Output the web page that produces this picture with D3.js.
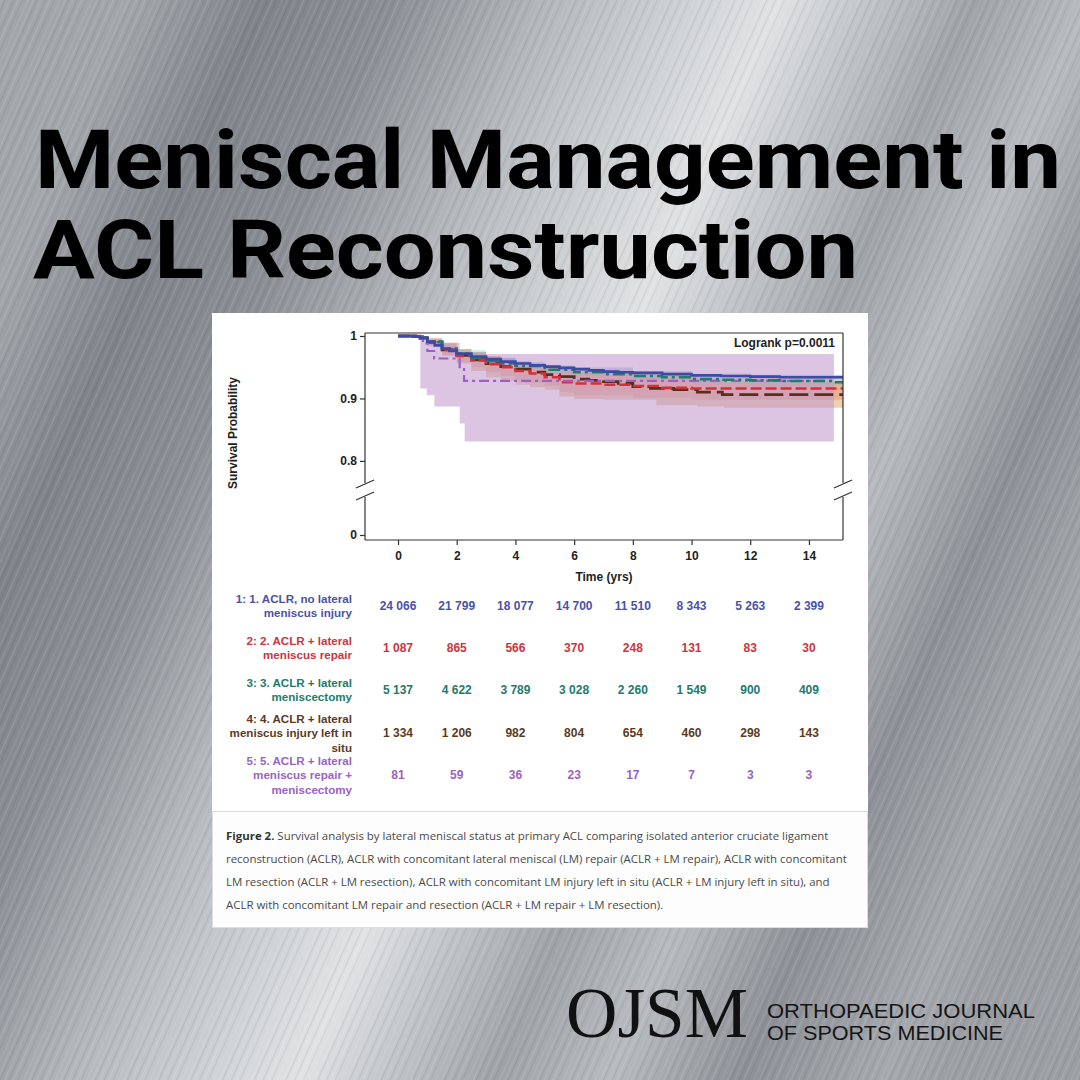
<!DOCTYPE html>
<html><head><meta charset="utf-8">
<script src="https://cdn.jsdelivr.net/npm/d3@7/dist/d3.min.js"></script>
<style>html,body{margin:0;padding:0;background:#9a9ea3;} svg{display:block}</style>
</head><body><svg id="c" width="1080" height="1080"></svg>
<script>
// ---------- data ----------
const titleLines = ["Meniscal Management in", "ACL Reconstruction"];
const xTicks = [0, 2, 4, 6, 8, 10, 12, 14];
const yTicks = [0, 0.8, 0.9, 1];
const yTickLabels = ["0", "0.8", "0.9", "1"];
const logrankText = "Logrank p=0.0011";
const xTitle = "Time (yrs)";
const yTitle = "Survival Probability";

const groupLabels = [
  ["1: 1. ACLR, no lateral", "meniscus injury"],
  ["2: 2. ACLR + lateral", "meniscus repair"],
  ["3: 3. ACLR + lateral", "meniscectomy"],
  ["4: 4. ACLR + lateral", "meniscus injury left in", "situ"],
  ["5: 5. ACLR + lateral", "meniscus repair +", "meniscectomy"]
];
const groupColors = ["#3d4aa6", "#d42f3a", "#1f7c6e", "#55301a", "#9b5fc6"];
const textColors  = ["#4a52a8", "#cc3440", "#237a6a", "#5c3a1e", "#9a62c4"];

const atRisk1 = [24066, 21799, 18077, 14700, 11510, 8343, 5263, 2399];
const atRisk2 = [1087, 865, 566, 370, 248, 131, 83, 30];
const atRisk3 = [5137, 4622, 3789, 3028, 2260, 1549, 900, 409];
const atRisk4 = [1334, 1206, 982, 804, 654, 460, 298, 143];
const atRisk5 = [81, 59, 36, 23, 17, 7, 3, 3];

// Kaplan-Meier estimates [time, survival]
const surv1 = [[0,1],[0.5,0.999],[0.75,0.997],[1,0.991],[1.25,0.985],[1.5,0.98],[1.75,0.976],[2,0.972],[2.5,0.967],[3,0.963],[3.5,0.959],[4,0.956],[4.5,0.953],[5,0.951],[5.5,0.949],[6,0.947],[6.5,0.945],[7,0.943],[7.5,0.942],[8,0.941],[9,0.939],[10,0.937],[11,0.936],[12,0.935],[13,0.934],[14,0.934],[15.2,0.934]];
const surv2 = [[0,1],[0.75,0.996],[1,0.99],[1.5,0.978],[2,0.968],[2.5,0.961],[3,0.955],[3.5,0.95],[4,0.944],[4.5,0.94],[5,0.934],[5.5,0.926],[6,0.924],[7,0.922],[8,0.92],[9,0.917],[10,0.916],[15.2,0.915]];
const surv3 = [[0,1],[0.75,0.997],[1,0.991],[1.5,0.98],[2,0.972],[2.5,0.965],[3,0.96],[3.5,0.956],[4,0.952],[5,0.946],[6,0.942],[7,0.939],[8,0.936],[9,0.934],[10,0.931],[11,0.93],[12,0.929],[13,0.928],[14.8,0.926],[15.2,0.926]];
const surv4 = [[0,1],[0.75,0.997],[1,0.99],[1.5,0.978],[2,0.969],[2.5,0.962],[3,0.956],[3.5,0.951],[4,0.947],[4.5,0.942],[5,0.938],[5.5,0.935],[6,0.931],[6.5,0.929],[7,0.927],[7.5,0.924],[8,0.919],[8.6,0.916],[9.4,0.914],[10.2,0.91],[11.05,0.906],[15.2,0.906]];
const surv5 = [[0,1],[0.85,0.988],[1.0,0.976],[1.23,0.964],[2.1,0.95],[2.25,0.928],[14.9,0.928]];

// 95% confidence bands [time, lower, upper]
const ci1 = [[0,1,1],[0.75,0.996,0.998],[1,0.989,0.993],[1.5,0.978,0.982],[2,0.97,0.974],[3,0.961,0.965],[4,0.954,0.958],[5,0.948,0.953],[6,0.944,0.95],[8,0.938,0.944],[10,0.934,0.94],[12,0.932,0.938],[15.2,0.931,0.937]];
const ci2 = [[0,1,1],[0.5,0.997,1],[1,0.985,0.997],[1.5,0.97,0.989],[2,0.958,0.979],[2.5,0.95,0.974],[3,0.942,0.968],[3.5,0.936,0.964],[4,0.93,0.959],[4.5,0.925,0.955],[5,0.92,0.949],[5.5,0.91,0.943],[6,0.905,0.941],[8,0.901,0.938],[10,0.898,0.934],[15.2,0.896,0.932]];
const ci3 = [[0,1,1],[0.75,0.995,0.999],[1,0.988,0.994],[1.5,0.976,0.984],[2,0.967,0.977],[3,0.955,0.965],[4,0.946,0.958],[5,0.94,0.952],[6,0.936,0.948],[8,0.929,0.943],[10,0.924,0.938],[12,0.921,0.937],[15.2,0.917,0.935]];
const ci4 = [[0,1,1],[0.5,0.997,1],[1,0.984,0.996],[1.5,0.968,0.988],[2,0.956,0.979],[2.5,0.944,0.974],[3,0.934,0.968],[3.5,0.928,0.964],[4,0.922,0.96],[4.5,0.918,0.956],[5,0.914,0.953],[5.5,0.903,0.95],[6,0.899,0.947],[7,0.898,0.944],[8.8,0.889,0.937],[10.2,0.887,0.931],[11.1,0.885,0.926],[15.2,0.885,0.926]];
const ci5 = [[0,1,1],[0.76,0.916,1.0],[0.98,0.905,0.989],[1.24,0.887,0.989],[2.1,0.86,0.971],[2.27,0.831,0.971],[14.85,0.831,0.971]];

const captionLines = [
  ["Figure 2.", " Survival analysis by lateral meniscal status at primary ACL comparing isolated anterior cruciate ligament"],
  ["", "reconstruction (ACLR), ACLR with concomitant lateral meniscal (LM) repair (ACLR + LM repair), ACLR with concomitant"],
  ["", "LM resection (ACLR + LM resection), ACLR with concomitant LM injury left in situ (ACLR + LM injury left in situ), and"],
  ["", "ACLR with concomitant LM repair and resection (ACLR + LM repair + LM resection)."]
];
const logoMark = "OJSM";
const logoLines = ["ORTHOPAEDIC JOURNAL", "OF SPORTS MEDICINE"];

const bgStops = [[0,"#a2a6ab"],[0.1,"#7f838a"],[0.2,"#8b8f95"],[0.32,"#b3b6bb"],[0.42,"#cdd0d3"],[0.5,"#e0e2e4"],[0.56,"#c4c7cb"],[0.65,"#9fa3a8"],[0.74,"#b7babe"],[0.84,"#8d9197"],[0.95,"#a5a8ad"],[1,"#9b9fa4"]];

// ---------- drawing ----------
const svg = d3.select("#c");
const W = 1080, H = 1080;
const defs = svg.append("defs");
const grad = defs.append("linearGradient").attr("id","metal")
  .attr("gradientUnits","userSpaceOnUse").attr("x1",0).attr("y1",300).attr("x2",1080).attr("y2",780);
bgStops.forEach(([o,c]) => grad.append("stop").attr("offset",o).attr("stop-color",c));
svg.append("rect").attr("width",W).attr("height",H).attr("fill","url(#metal)");

const pat = defs.append("pattern").attr("id","brush").attr("patternUnits","userSpaceOnUse")
  .attr("width",29).attr("height",60).attr("patternTransform","rotate(24)");
[[1,0.11,"#fff"],[4,0.08,"#000"],[8,0.10,"#fff"],[12,0.07,"#000"],[16,0.14,"#fff"],[20,0.06,"#000"],[25,0.09,"#fff"]]
  .forEach(([px,o,c]) => pat.append("rect").attr("x",px).attr("y",0).attr("width",1.2).attr("height",60).attr("fill",c).attr("opacity",o));
svg.append("rect").attr("width",W).attr("height",H).attr("fill","url(#brush)");

// title
titleLines.forEach((t,i) => {
  svg.append("text").attr("x", i ? 33 : 35).attr("y", i ? 278 : 188)
    .attr("font-family","Roboto, 'Open Sans', sans-serif").attr("font-weight",700)
    .attr("font-size",81).attr("fill","#000")
    .attr("textLength", i ? 825 : 1026).attr("lengthAdjust","spacingAndGlyphs")
    .text(t);
});

// panel
svg.append("rect").attr("x",212).attr("y",313).attr("width",656).attr("height",615).attr("fill","#ffffff");
svg.append("rect").attr("x",212.5).attr("y",811.5).attr("width",655).attr("height",116)
  .attr("fill","#fdfdfd").attr("stroke","#dddddd");

// scales
const plotL = 365, plotR = 843, plotT = 333, plotB = 540;
const x = d3.scaleLinear().domain([-1.125, 15.16]).range([plotL, plotR]);
const y = d3.scaleLinear().domain([0, 0.755, 1]).range([535, 489, 336]);

defs.append("clipPath").attr("id","plotclip").append("rect")
  .attr("x",plotL).attr("y",plotT).attr("width",plotR-plotL).attr("height",plotB-plotT);
const plot = svg.append("g").attr("clip-path","url(#plotclip)");

const area = d3.area().curve(d3.curveStepAfter).x(d=>x(d[0])).y0(d=>y(d[1])).y1(d=>y(d[2]));
const bands = [
  {d:ci4, fill:"#d68a3c", op:0.42},
  {d:ci2, fill:"#e0604c", op:0.25},
  {d:ci3, fill:"#7cc4b4", op:0.35},
  {d:ci1, fill:"#8c98d8", op:0.35},
  {d:ci5, fill:"#bf95cc", op:0.55}
];
bands.forEach(b => plot.append("path").attr("d",area(b.d)).attr("fill",b.fill).attr("fill-opacity",b.op));

const line = d3.line().curve(d3.curveStepAfter).x(d=>x(d[0])).y(d=>y(d[1]));
const curves = [
  {d:surv4, c:groupColors[3], w:2.8, dash:"19,6"},
  {d:surv2, c:groupColors[1], w:2.6, dash:"11,4"},
  {d:surv5, c:groupColors[4], w:2.2, dash:"10,4,3,4"},
  {d:surv3, c:groupColors[2], w:2.6, dash:"12,4,3,4"},
  {d:surv1, c:groupColors[0], w:2.6, dash:null}
];
curves.forEach(k => {
  const p = plot.append("path").attr("d",line(k.d)).attr("fill","none")
    .attr("stroke",k.c).attr("stroke-width",k.w).attr("stroke-linejoin","miter");
  if (k.dash) p.attr("stroke-dasharray",k.dash);
});

// frame with axis break
const axisCol = "#333333";
const brkTop = 483, brkBot = 497;
const fr = svg.append("g").attr("stroke",axisCol).attr("stroke-width",1.2).attr("fill","none");
fr.append("line").attr("x1",plotL).attr("x2",plotR).attr("y1",plotT).attr("y2",plotT);
fr.append("line").attr("x1",plotL).attr("x2",plotR).attr("y1",plotB).attr("y2",plotB);
[plotL, plotR].forEach(ax => {
  fr.append("line").attr("x1",ax).attr("x2",ax).attr("y1",plotT).attr("y2",brkTop);
  fr.append("line").attr("x1",ax).attr("x2",ax).attr("y1",brkBot).attr("y2",plotB);
  [brkTop+1, brkBot-1].forEach(by => {
    fr.append("line").attr("x1",ax-9).attr("y1",by+4).attr("x2",ax+9).attr("y2",by-4);
  });
});

// axes
const yAxis = d3.axisLeft(y).tickValues(yTicks).tickSize(5).tickFormat((d,i)=>yTickLabels[i]);
const yg = svg.append("g").attr("transform",`translate(${plotL},0)`).call(yAxis);
yg.select(".domain").remove();
const xAxis = d3.axisBottom(x).tickValues(xTicks).tickSize(5).tickPadding(6).tickFormat(d3.format("d"));
const xg = svg.append("g").attr("transform",`translate(0,${plotB})`).call(xAxis);
xg.select(".domain").remove();
[yg, xg].forEach(g => {
  g.selectAll("line").attr("stroke",axisCol).attr("stroke-width",1.2);
  g.selectAll("text").attr("font-family","'Liberation Sans', Arial, sans-serif")
    .attr("font-weight",700).attr("font-size",12).attr("fill","#222");
});

svg.append("text").attr("x",604).attr("y",581).attr("text-anchor","middle")
  .attr("font-family","'Liberation Sans', Arial, sans-serif").attr("font-weight",700)
  .attr("font-size",12).attr("fill","#222").text(xTitle);
svg.append("text").attr("transform","translate(237,433) rotate(-90)").attr("text-anchor","middle")
  .attr("font-family","'Liberation Sans', Arial, sans-serif").attr("font-weight",700)
  .attr("font-size",12).attr("fill","#222").text(yTitle);
svg.append("text").attr("x",835).attr("y",346.5).attr("text-anchor","end")
  .attr("font-family","'Liberation Sans', Arial, sans-serif").attr("font-weight",700)
  .attr("font-size",12).attr("fill","#222").text(logrankText);

// risk table
const fmt = d3.formatLocale({decimal:".", thousands:" ", grouping:[3], currency:["",""]}).format(",d");
const atRisk = [atRisk1, atRisk2, atRisk3, atRisk4, atRisk5];
const rowCenters = [606, 648, 690, 733, 775];
const lineGap = 14.5;
atRisk.forEach((vals, r) => {
  const cy = rowCenters[r];
  const lines = groupLabels[r];
  const n = lines.length;
  lines.forEach((t, j) => {
    svg.append("text").attr("x",352).attr("y", cy + (j - (n-1)/2)*lineGap + 4.2)
      .attr("text-anchor","end").attr("font-family","'Liberation Sans', Arial, sans-serif")
      .attr("font-weight",700).attr("font-size",11.6).attr("fill",textColors[r]).text(t);
  });
  vals.forEach((v, i) => {
    svg.append("text").attr("x", x(xTicks[i])).attr("y", cy + 4.2).attr("text-anchor","middle")
      .attr("font-family","'Liberation Sans', Arial, sans-serif").attr("font-weight",700)
      .attr("font-size",12).attr("fill",textColors[r]).text(fmt(v));
  });
});

// caption
const capY = [839.5, 863, 886, 909];
const capFont = "'Open Sans', sans-serif";
const probe = svg.append("text").attr("font-family",capFont).attr("font-size",10)
  .text(captionLines[0][0] + captionLines[0][1]);
const w0 = probe.node().getComputedTextLength();
probe.remove();
const capSize = 10 * 600 / w0;
captionLines.forEach((ln, i) => {
  const t = svg.append("text").attr("x",226).attr("y",capY[i])
    .attr("font-family",capFont).attr("font-size",capSize).attr("fill","#4a4a4a");
  if (ln[0]) t.append("tspan").attr("font-weight",700).attr("fill","#333").text(ln[0]);
  t.append("tspan").text(ln[1]);
});

// logo
svg.append("text").attr("x",566).attr("y",1037).attr("font-family","'Liberation Serif', 'DejaVu Serif', serif")
  .attr("font-size",72).attr("fill","#111").attr("textLength",182).attr("lengthAdjust","spacingAndGlyphs").text(logoMark);
logoLines.forEach((t,i) => {
  svg.append("text").attr("x",767).attr("y", i ? 1040 : 1017.5)
    .attr("font-family","'Liberation Sans', Arial, sans-serif").attr("font-size",20).attr("fill","#151515")
    .attr("textLength", i ? 236 : 268).attr("lengthAdjust","spacingAndGlyphs").text(t);
});
</script></body></html>
